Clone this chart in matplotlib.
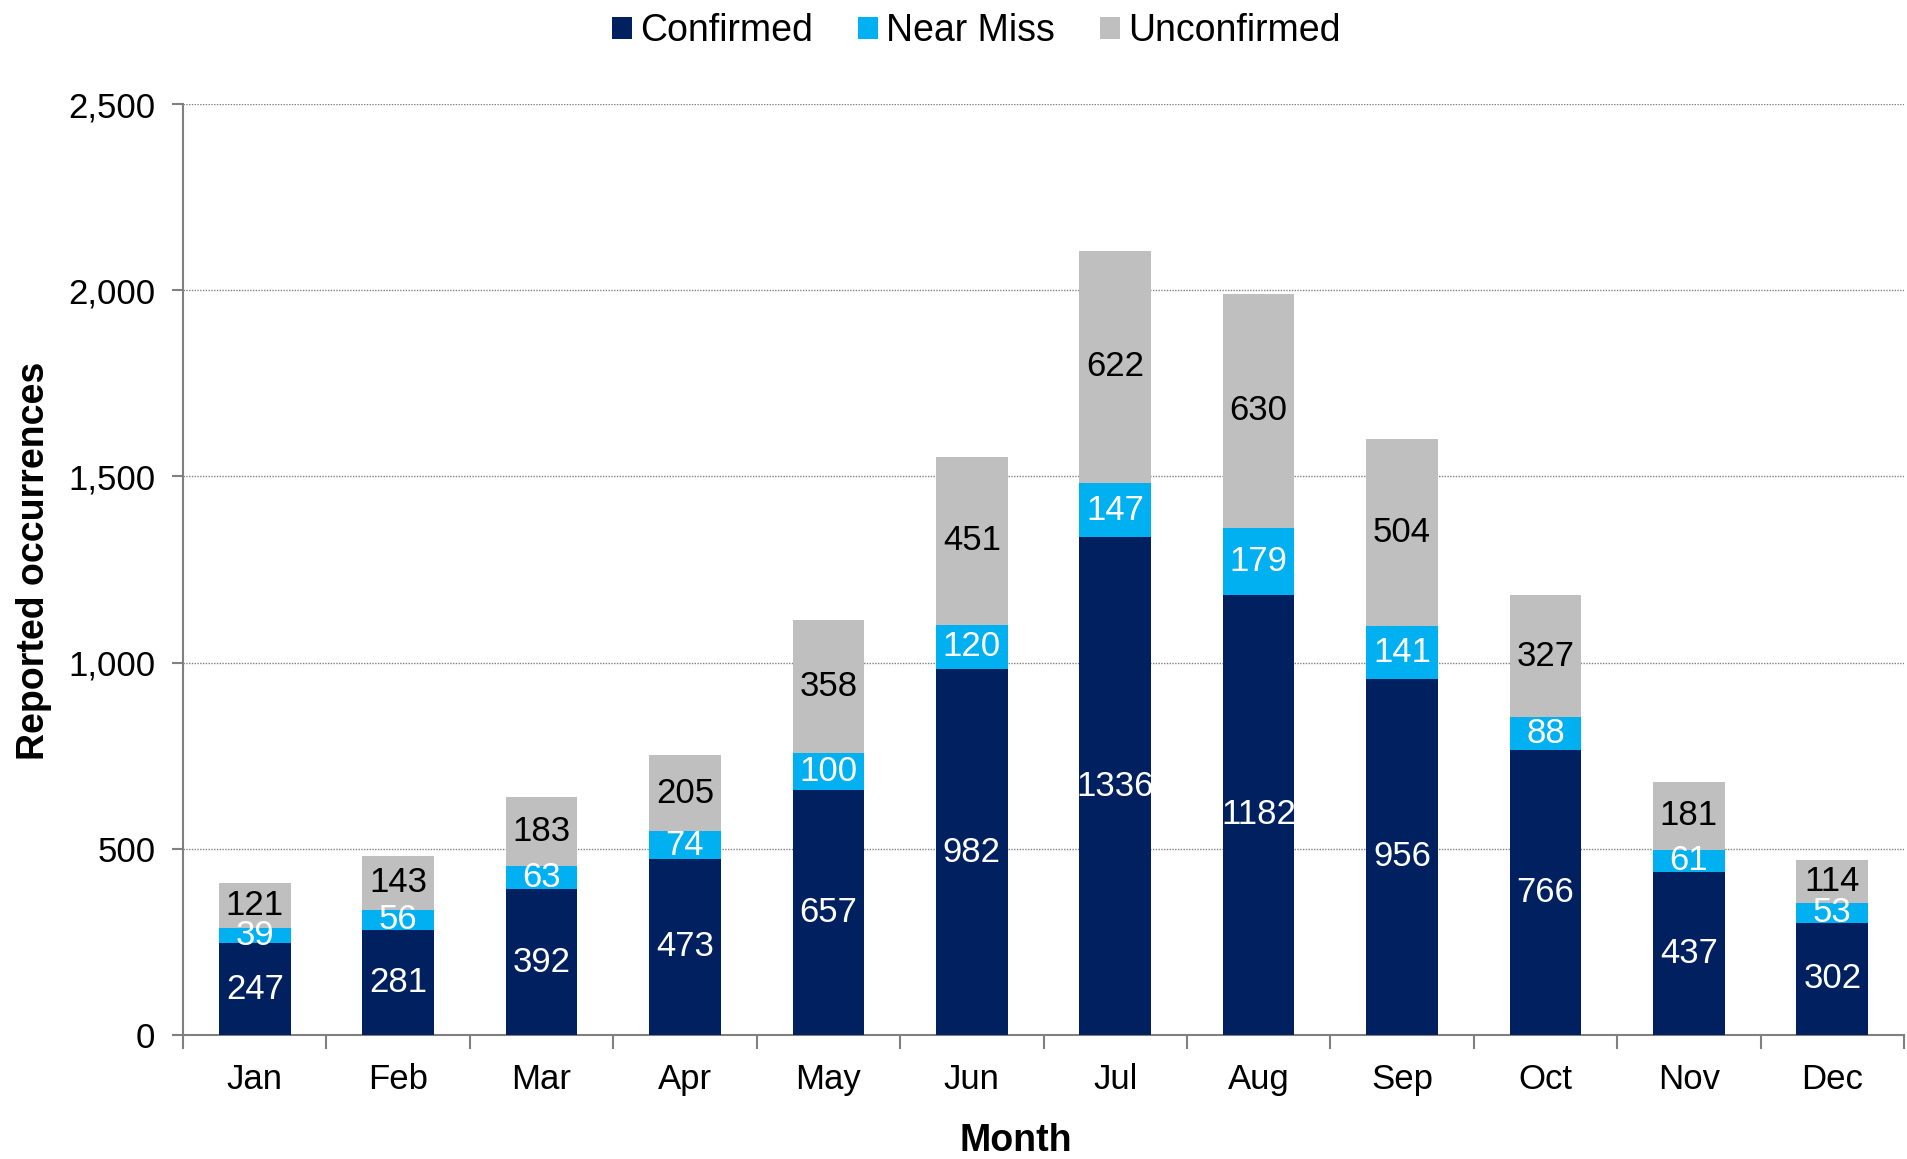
import numpy as np
import matplotlib
matplotlib.use("Agg")
import matplotlib.pyplot as plt
from matplotlib.ticker import FuncFormatter, MultipleLocator

months = ["Jan", "Feb", "Mar", "Apr", "May", "Jun", "Jul", "Aug", "Sep", "Oct", "Nov", "Dec"]
confirmed = [247, 281, 392, 473, 657, 982, 1336, 1182, 956, 766, 437, 302]
near_miss = [39, 56, 63, 74, 100, 120, 147, 179, 141, 88, 61, 53]
unconfirmed = [121, 143, 183, 205, 358, 451, 622, 630, 504, 327, 181, 114]

plt.rcParams['font.family'] = ['Liberation Sans', 'DejaVu Sans']

fig = plt.figure(figsize=(19.08, 11.59), dpi=100)
ax = fig.add_axes([183 / 1908, 1 - 1035 / 1159, (1904 - 183) / 1908, (1035 - 104) / 1159])

x = np.arange(len(months))
c = np.array(confirmed)
n = np.array(near_miss)
u = np.array(unconfirmed)

series = [
    ("Confirmed", c, np.zeros(len(c)), "#002060", "white"),
    ("Near Miss", n, c, "#00B0F0", "white"),
    ("Unconfirmed", u, c + n, "#BFBFBF", "black"),
]
for name, vals, bottom, col, tcol in series:
    bars = ax.bar(x, vals, bottom=bottom, width=0.5, color=col, label=name, zorder=3)
    for xi, v, b in zip(x, vals, bottom):
        ax.text(xi, b + v / 2, str(v), ha="center", va="center", color=tcol, fontsize=25, zorder=4)

ax.set_xlim(-0.5, len(months) - 0.5)
ax.set_ylim(0, 2500)
ax.yaxis.set_major_locator(MultipleLocator(500))
ax.yaxis.set_major_formatter(FuncFormatter(lambda v, p: f"{int(v):,}"))
ax.grid(axis="y", linestyle=(0, (1, 1)), color="#808080", linewidth=1, zorder=0)

ax.set_xticks(x)
ax.set_xticklabels(months)
ax.set_xticks(np.arange(-0.5, len(months)), minor=True)
ax.tick_params(axis="x", which="major", length=0, pad=20, labelsize=25)
ax.tick_params(axis="x", which="minor", length=10, width=1.5, color="#808080")
ax.tick_params(axis="y", length=8, width=1.5, color="#808080", labelsize=25, pad=12)

for s in ["top", "right"]:
    ax.spines[s].set_visible(False)
for s in ["left", "bottom"]:
    ax.spines[s].set_color("#808080")
    ax.spines[s].set_linewidth(1.5)

ax.set_xlabel("Month", fontsize=27, fontweight="bold")
ax.set_ylabel("Reported occurrences", fontsize=27, fontweight="bold")
ax.xaxis.set_label_coords((1016 - 183) / (1904 - 183), -0.095)
ax.yaxis.set_label_coords(-0.076, (1035 - 561) / (1035 - 104))

ax.legend(loc="upper center", bbox_to_anchor=(976 / 1908, 1.008), bbox_transform=fig.transFigure,
          ncol=3, frameon=False, fontsize=27, handlelength=0.55, handleheight=0.55,
          handletextpad=0.2, columnspacing=1.2, borderaxespad=0.2)

fig.savefig("out.png", dpi=100)
